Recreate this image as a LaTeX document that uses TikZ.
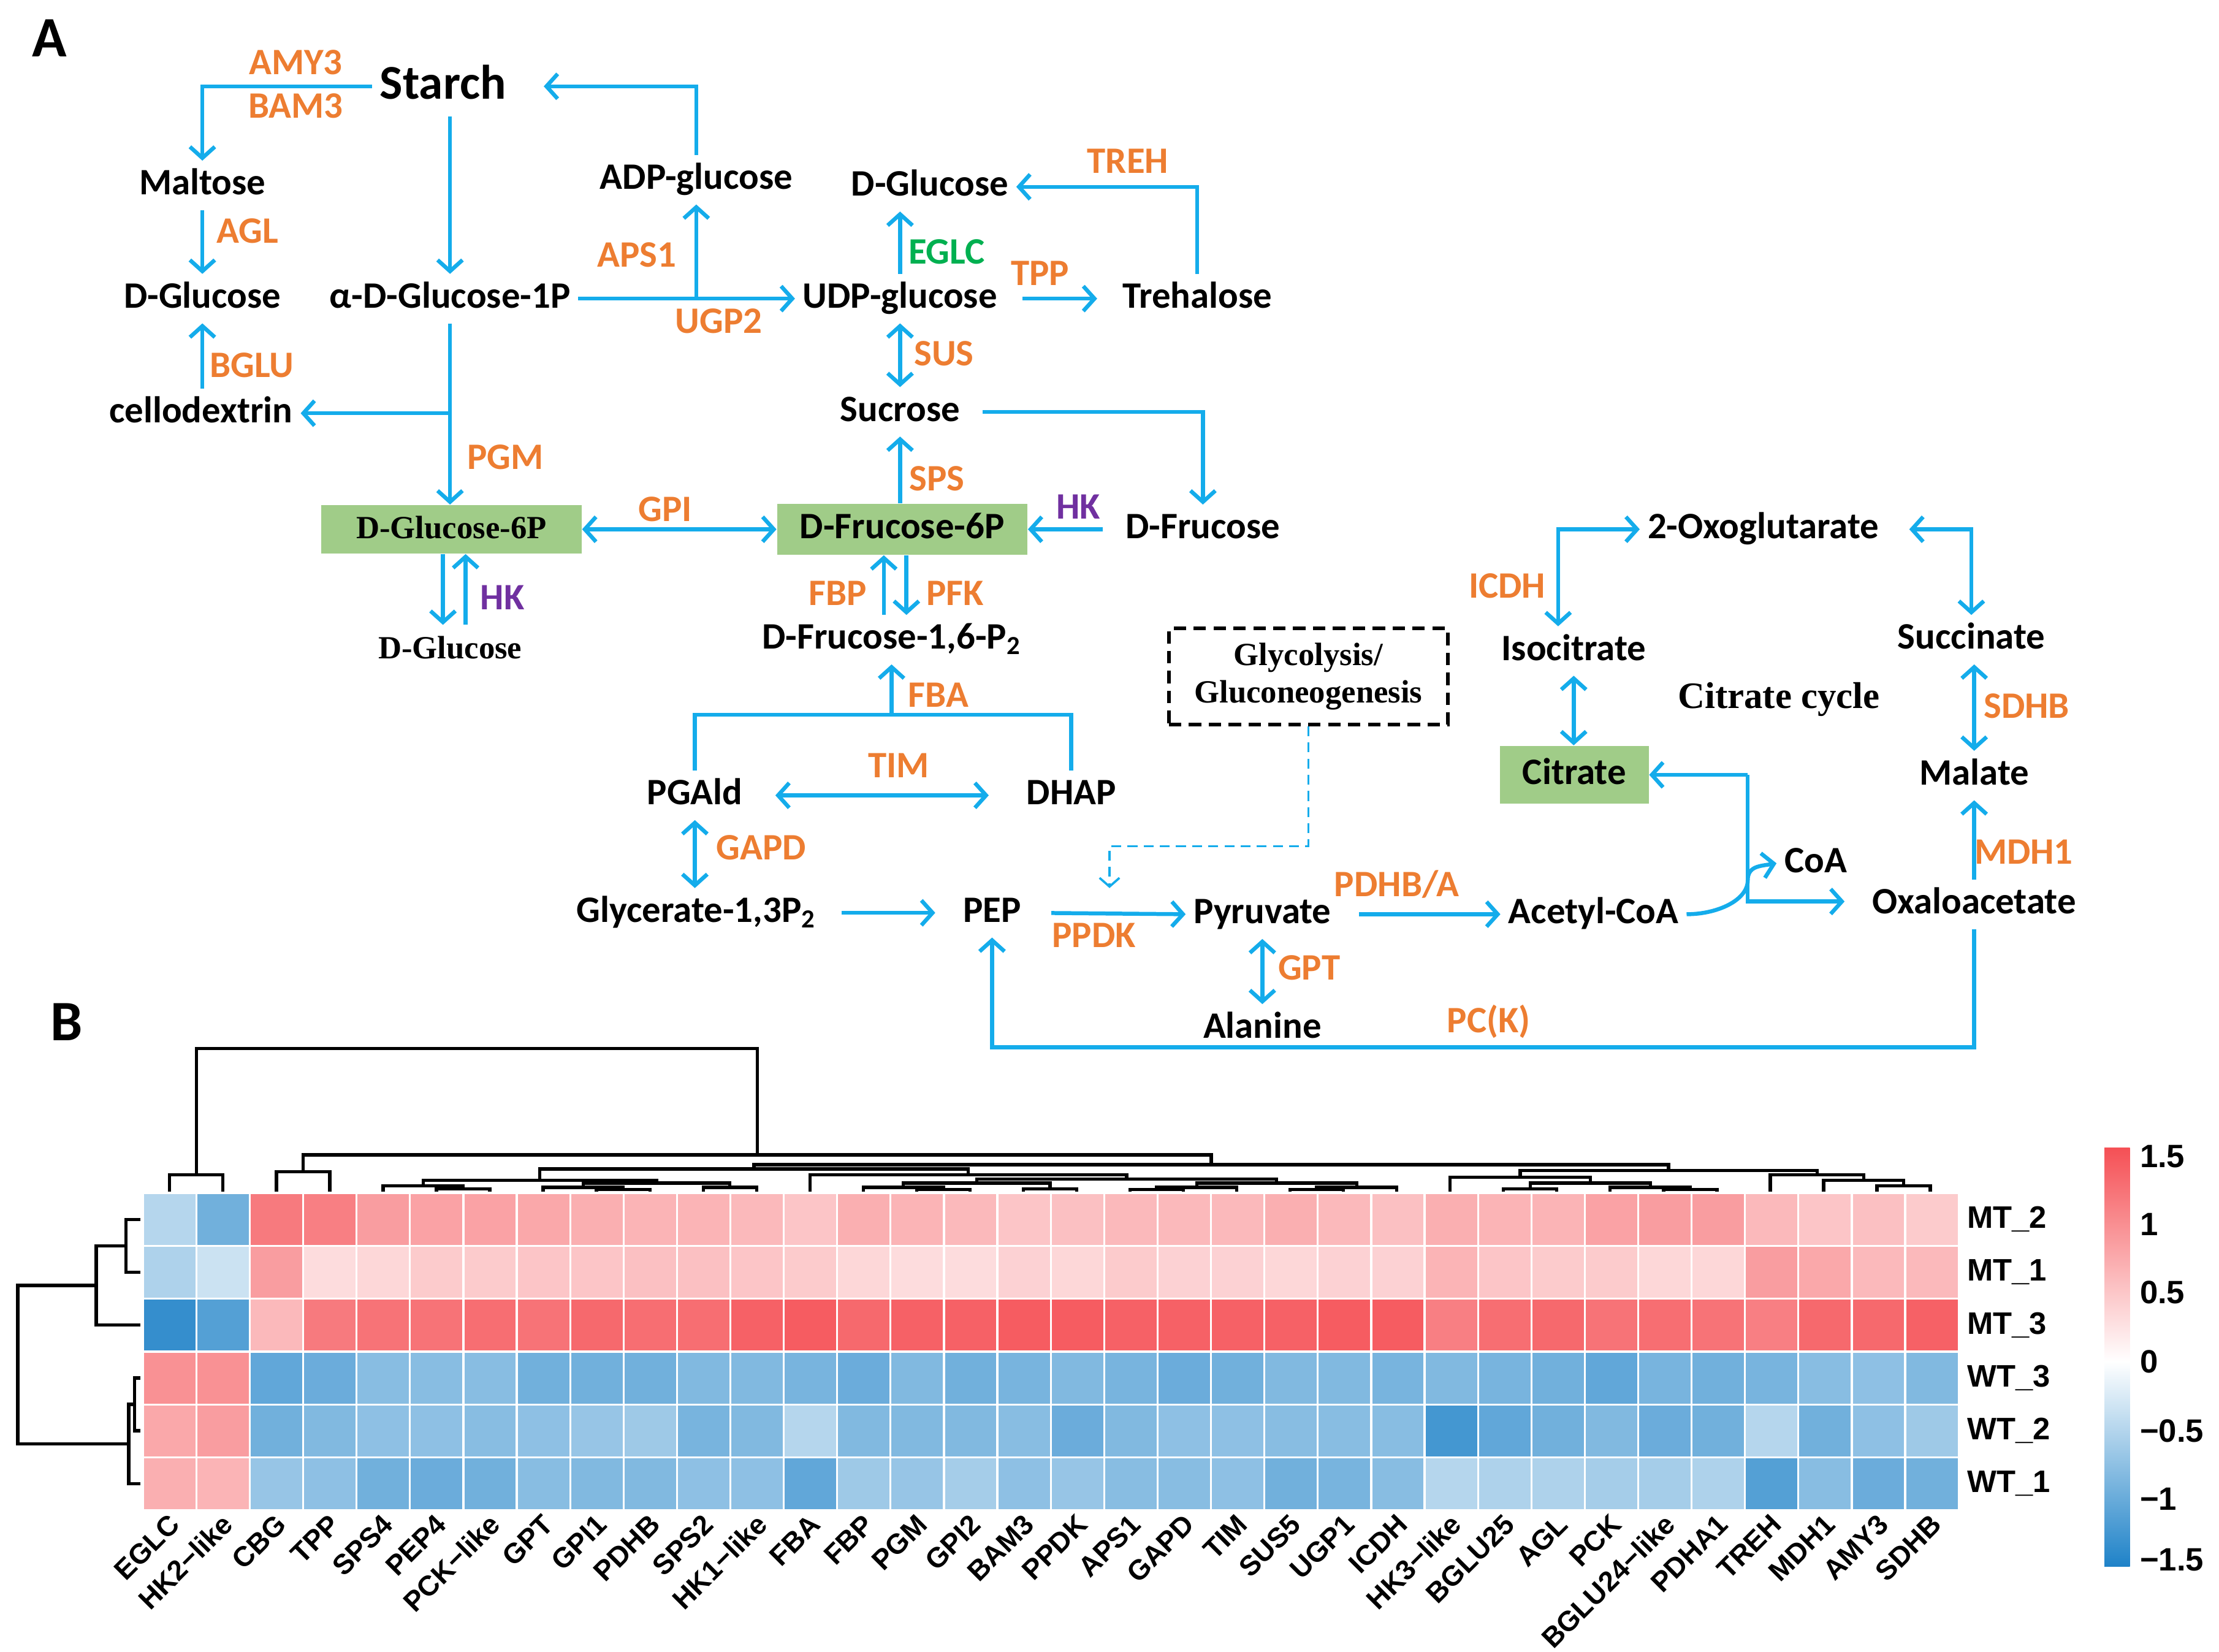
\documentclass[tikz,border=0pt]{standalone}
\usepackage{fontspec}
\setmainfont{Carlito}
\newfontfamily\timesbf{Liberation Serif}
\newfontfamily\arialbf{Liberation Sans}
\usepackage{xcolor}
\usepackage{tikz}
\usetikzlibrary{arrows.meta,positioning,calc}

\definecolor{pathblue}{RGB}{20,172,235}
\definecolor{enzorange}{RGB}{237,125,49}
\definecolor{enzgreen}{RGB}{0,176,80}
\definecolor{enzpurple}{RGB}{112,48,160}
\definecolor{boxgreen}{RGB}{160,204,136}
\definecolor{hmred}{RGB}{245,80,85}
\definecolor{hmblue}{RGB}{30,130,200}

\newcommand{\colbranch}[5]{\draw[dend] (#1,#4) |- (#2,#3) -- (#2,#5);}
\newcommand{\rowbranch}[5]{\draw[dend] (#4,#1) -| (#3,#2) -- (#5,#2);}

\begin{document}
\begin{tikzpicture}[x=0.02cm, y=-0.02cm,
    met/.style={font=\fontsize{15}{18}\selectfont\bfseries, inner sep=3pt, text height=10.5pt, text depth=3pt},
    enz/.style={font=\fontsize{15}{18}\selectfont\bfseries, text=enzorange, inner sep=1pt},
    serifmet/.style={font=\timesbf\fontsize{13}{15}\selectfont\bfseries},
    keybox/.style={met, fill=boxgreen},
    arrow/.style={draw=pathblue, line width=1.6pt, -{Straight Barb[length=4.5pt,width=10pt]}},
    twoway/.style={arrow, {Straight Barb[length=4.5pt,width=10pt]}-{Straight Barb[length=4.5pt,width=10pt]}},
    link/.style={draw=pathblue, line width=1.6pt},
    dashlink/.style={draw=pathblue, line width=0.9pt, dash pattern=on 4pt off 2.5pt, -{Straight Barb[length=3.5pt,width=8pt]}},
    dend/.style={draw=black, line width=1.3pt},
    rowlab/.style={font=\arialbf\fontsize{12.5}{14}\selectfont\bfseries, anchor=west, inner sep=1pt},
    collab/.style={font=\arialbf\fontsize{11.3}{13}\selectfont\bfseries, anchor=east, rotate=45, inner sep=0.5pt},
    panel/.style={font=\fontsize{23}{26}\selectfont\bfseries}]

    \useasboundingbox (0,0) rectangle (1568,1167);

    \node[panel] (panelA) at (35,27) {A};
    \node[panel] (panelB) at (47,722) {B};

    % Metabolites
    \node[met, font=\fontsize{19.5}{22}\selectfont\bfseries, text height=14pt, text depth=4pt] (starch) at (313,61) {Starch};
    \node[met] (maltose) at (143,131) {Maltose};
    \node[met] (glcA) at (143,211) {D-Glucose};
    \node[met] (cello) at (142,292) {cellodextrin};
    \node[met] (g1p) at (318,211) {α-D-Glucose-1P};
    \node[met] (adp) at (492,127) {ADP-glucose};
    \node[met] (glcC) at (657,132) {D-Glucose};
    \node[met] (udp) at (636,211) {UDP-glucose};
    \node[met] (treh) at (846,211) {Trehalose};
    \node[met] (sucrose) at (636,291) {Sucrose};
    \node[keybox, serifmet, minimum width=3.68cm, minimum height=0.64cm] (g6p) at (319,374) {D-Glucose-6P};
    \node[keybox, minimum width=3.54cm, minimum height=0.72cm] (f6p) at (637.5,374) {D-Frucose-6P};
    \node[met] (dfru) at (850,374) {D-Frucose};
    \node[met, serifmet] (glcB) at (318,459) {D-Glucose};
    \node[met] (f16p) at (630,452) {D-Frucose-1,6-P\textsubscript{2}};
    \node[met] (pgald) at (491,562) {PGAld};
    \node[met] (dhap) at (757,562) {DHAP};
    \node[met] (gly13) at (492,645) {Glycerate-1,3P\textsubscript{2}};
    \node[met] (pep) at (701,645) {PEP};
    \node[met] (pyr) at (892,646) {Pyruvate};
    \node[met] (acoa) at (1126,646) {Acetyl-CoA};
    \node[met] (ala) at (892,727) {Alanine};
    \node[met] (coa) at (1283,610) {CoA};
    \node[met] (oaa) at (1395,639) {Oxaloacetate};
    \node[met] (malate) at (1395,548) {Malate};
    \node[met] (succ) at (1393,452) {Succinate};
    \node[met] (oxo) at (1246,374) {2-Oxoglutarate};
    \node[met] (iso) at (1112,460) {Isocitrate};
    \node[keybox, minimum width=2.1cm, minimum height=0.82cm] (citrate) at (1112.5,547.5) {Citrate};
    \node[font=\timesbf\fontsize{15}{18}\selectfont\bfseries] (cycle) at (1257,494) {Citrate cycle};
    \node[draw, line width=1.4pt, dash pattern=on 5pt off 3pt, minimum width=3.94cm, minimum height=1.36cm,
          align=center, font=\timesbf\fontsize{13}{15}\selectfont\bfseries] (gbox) at (924.5,478) {Glycolysis/\\Gluconeogenesis};

    % Enzymes
    \node[enz] (eAMY3) at (209,44) {AMY3};
    \node[enz] (eBAM3) at (209,75) {BAM3};
    \node[enz] (eAGL) at (175,163) {AGL};
    \node[enz] (eBGLU) at (178,258) {BGLU};
    \node[enz] (eAPS1) at (450,180) {APS1};
    \node[enz] (eUGP2) at (508,227) {UGP2};
    \node[enz] (ePGM) at (357,323) {PGM};
    \node[enz] (eGPI) at (470,360) {GPI};
    \node[enz, text=enzgreen] (eEGLC) at (669,178) {EGLC};
    \node[enz] (eTPP) at (735,193) {TPP};
    \node[enz] (eTREH) at (797,114) {TREH};
    \node[enz] (eSUS) at (667,250) {SUS};
    \node[enz] (eSPS) at (662,338) {SPS};
    \node[enz, text=enzpurple] (eHKa) at (762,358) {HK};
    \node[enz, text=enzpurple] (eHKb) at (355,422) {HK};
    \node[enz] (eFBP) at (592,419) {FBP};
    \node[enz] (ePFK) at (675,419) {PFK};
    \node[enz] (eFBA) at (663,491) {FBA};
    \node[enz] (eTIM) at (635,541) {TIM};
    \node[enz] (eGAPD) at (538,599) {GAPD};
    \node[enz] (ePPDK) at (773,661) {PPDK};
    \node[enz] (ePDH) at (987,625) {PDHB/A};
    \node[enz] (eGPT) at (925,684) {GPT};
    \node[enz] (ePCK) at (1052,722) {PC(K)};
    \node[enz] (eICDH) at (1065,414) {ICDH};
    \node[enz] (eSDHB) at (1432,499) {SDHB};
    \node[enz] (eMDH1) at (1430,602) {MDH1};

    % Arrows
    \coordinate (apsbr) at (adp.south |- g1p.east);
    \coordinate (cellbr) at (g1p.south |- cello.east);
    \coordinate (hkdn) at ($(g6p.south)+(-6,0)$);
    \coordinate (hkup) at ($(g6p.south)+(10,0)$);
    \coordinate (fbpx) at ($(f6p.south)+(-13,0)$);
    \coordinate (pfkx) at ($(f6p.south)+(3,0)$);
    \coordinate (fbabar) at (630,505);
    \coordinate (dturn) at (784,598);
    \coordinate (pcy) at (0,740);
    \coordinate (tcajoin) at (1235,547.5);
    \coordinate (tcamid) at (1235,622);
    \coordinate (tcalow) at (1235,637);
    \coordinate (icdhx) at (1101,0);

    \draw[arrow] (starch.west) -| (maltose.north);
    \draw[arrow] (maltose.south) -- (glcA.north);
    \draw[arrow] (glcA.south |- cello.north) -- (glcA.south);
    \draw[arrow] (starch.south -| g1p) -- (g1p.north);
    \draw[arrow] (g1p.east) -- (udp.west);
    \draw[arrow] (apsbr) -- (adp.south);
    \draw[arrow, shorten >=12pt] (adp.north) |- (starch.east);
    \draw[arrow] (g1p.south) -- (g1p.south |- g6p.north);
    \draw[arrow] (cellbr) -- (cello.east);
    \draw[twoway] (g6p.east) -- (f6p.west);
    \draw[arrow, shorten <=6pt] (dfru.west) -- (f6p.east);
    \draw[arrow] (hkdn) -- (hkdn |- glcB.north);
    \draw[arrow] (hkup |- glcB.north) -- (hkup);
    \draw[arrow] (sucrose.south |- f6p.north) -- (sucrose.south);
    \draw[twoway] (udp.south) -- (sucrose.north);
    \draw[arrow] (udp.north) -- (udp.north |- glcC.south);
    \draw[arrow, shorten <=7pt, shorten >=7pt] (udp.east) -- (treh.west);
    \draw[arrow] (treh.north) |- (glcC.east);
    \draw[arrow, shorten <=6pt] (sucrose.east) -| (dfru.north);
    \draw[arrow] (fbpx |- f16p.north) -- (fbpx);
    \draw[arrow] (pfkx) -- (pfkx |- f16p.north);
    \draw[link] (pgald.north) |- (fbabar) -| (dhap.north);
    \draw[arrow] (fbabar) -- (fbabar |- f16p.south);
    \draw[twoway, shorten <=10pt, shorten >=12pt] (pgald.east) -- (dhap.west);
    \draw[twoway] (pgald.south) -- (pgald.south |- gly13.north);
    \draw[arrow, shorten <=7pt, shorten >=8pt] (gly13.east) -- (pep.west);
    \draw[arrow, shorten <=9pt] (pep.east) -- (pyr.west);
    \draw[dashlink] (gbox.south) |- (dturn) -- (dturn |- pep.north);
    \draw[arrow, shorten <=8pt] (pyr.east) -- (acoa.west);
    \draw[twoway] (pyr.south) -- (ala.north);
    \draw[arrow] (oaa.south) -- (oaa.south |- pcy) -| (pep.south);
    \draw[arrow] (tcajoin) -- (citrate.east);
    \draw[arrow, shorten >=8pt] (tcajoin) -- (tcalow) -- (oaa.west |- tcalow);
    \draw[arrow] (acoa.east) .. controls +(22,0) and +(0,14) .. (tcamid) .. controls +(0,-10) and +(-12,2) .. (coa.west);
    \draw[arrow] (oaa.north) -- (oaa.north |- malate.south);
    \draw[twoway] (malate.north) -- (malate.north |- succ.south);
    \draw[twoway, shorten >=9pt] (succ.north) |- (oxo.east);
    \draw[twoway] (iso.north -| icdhx) |- (oxo.west);
    \draw[twoway] (iso.south) -- (iso.south |- citrate.north);

    % Heatmap
    \foreach \gene/\va/\vb/\vc/\vd/\ve/\vf [count=\ci] in {
        EGLC/-0.5/-0.55/-1.35/0.95/0.75/0.7,
        HK2−like/-0.95/-0.35/-1.15/0.95/0.85/0.65,
        CBG/1.15/0.85/0.6/-1.05/-0.95/-0.7,
        TPP/1.1/0.3/1.15/-1.0/-0.85/-0.75,
        SPS4/0.85/0.35/1.2/-0.8/-0.75/-0.95,
        PEP4/0.8/0.45/1.2/-0.8/-0.75/-1.0,
        PCK−like/0.8/0.45/1.25/-0.8/-0.8/-0.95,
        GPT/0.75/0.5/1.2/-0.95/-0.75/-0.8,
        GPI1/0.7/0.5/1.3/-0.95/-0.7/-0.85,
        PDHB/0.65/0.55/1.25/-0.95/-0.65/-0.85,
        SPS2/0.65/0.55/1.25/-0.85/-0.9/-0.75,
        HK1−like/0.6/0.5/1.35/-0.85/-0.85/-0.75,
        FBA/0.5/0.45/1.4/-0.9/-0.5/-1.05,
        FBP/0.7/0.35/1.3/-1.0/-0.85/-0.65,
        PGM/0.65/0.3/1.35/-0.85/-0.85/-0.7,
        GPI2/0.6/0.3/1.35/-0.95/-0.85/-0.6,
        BAM3/0.5/0.4/1.4/-0.9/-0.8/-0.75,
        PPDK/0.55/0.35/1.4/-0.85/-1.0/-0.7,
        APS1/0.6/0.45/1.35/-0.9/-0.85/-0.8,
        GAPD/0.6/0.4/1.35/-1.0/-0.75/-0.8,
        TIM/0.6/0.4/1.35/-0.95/-0.75/-0.75,
        SUS5/0.7/0.35/1.35/-0.85/-0.8/-0.95,
        UGP1/0.6/0.4/1.4/-0.85/-0.8/-0.9,
        ICDH/0.55/0.4/1.4/-0.9/-0.8/-0.8,
        HK3−like/0.7/0.65/1.1/-0.85/-1.25/-0.5,
        BGLU25/0.65/0.5/1.25/-0.9/-1.05/-0.55,
        AGL/0.65/0.45/1.3/-0.95/-0.95/-0.55,
        PCK/0.8/0.45/1.2/-1.05/-0.85/-0.6,
        BGLU24−like/0.85/0.35/1.25/-0.9/-1.0/-0.6,
        PDHA1/0.85/0.35/1.2/-0.95/-0.95/-0.55,
        TREH/0.6/0.85/1.1/-0.9/-0.5/-1.15,
        MDH1/0.5/0.75/1.3/-0.8/-0.95/-0.8,
        AMY3/0.55/0.6/1.3/-0.75/-0.75/-1.0,
        SDHB/0.45/0.6/1.35/-0.85/-0.65/-0.95} {
        \pgfmathsetmacro\cx{101+37.735*(\ci-1)}
        \foreach \v [count=\ri] in {\va,\vb,\vc,\vd,\ve,\vf} {
            \pgfmathsetmacro\ry{843+37.35*(\ri-1)}
            \pgfmathtruncatemacro\pc{min(100,abs(\v)*66.7)}
            \ifdim\v pt>0pt \def\hc{hmred}\else\def\hc{hmblue}\fi
            \filldraw[fill=\hc!\pc!white, draw=white, line width=0.8pt] (\cx,\ry) rectangle ++(37.735,37.35);
        }
        \node[collab] (col\ci) at (\cx+23,1073) {\gene};
    }
    \foreach \rn [count=\ri] in {MT\_2,MT\_1,MT\_3,WT\_3,WT\_2,WT\_1}
        \node[rowlab] (row\ri) at (1388,{843+37.35*(\ri-0.5)}) {\rn};

    % Column dendrogram
    \colbranch{119.9}{157.6}{830}{842}{842}
    \colbranch{195.3}{233.0}{828}{842}{842}
    \colbranch{308.4}{346.1}{840}{842}{842}
    \colbranch{270.7}{327.25}{838}{842}{840}
    \colbranch{421.5}{459.2}{840.5}{842}{842}
    \colbranch{383.8}{440.35}{839}{842}{840.5}
    \colbranch{496.9}{534.6}{839}{842}{842}
    \colbranch{412.1}{515.75}{836}{839}{839}
    \colbranch{299}{463.9}{834}{838}{836}
    \colbranch{647.7}{685.4}{840.5}{842}{842}
    \colbranch{610}{666.55}{839}{842}{840.5}
    \colbranch{723.1}{760.8}{840}{842}{842}
    \colbranch{638.3}{741.95}{836}{839}{840}
    \colbranch{798.5}{836.2}{840.5}{842}{842}
    \colbranch{817.35}{873.9}{839}{840.5}{842}
    \colbranch{911.6}{949.3}{840.5}{842}{842}
    \colbranch{930.45}{987}{839}{840.5}{842}
    \colbranch{845.6}{958.7}{836}{839}{839}
    \colbranch{690.1}{902.15}{833}{836}{836}
    \colbranch{572.3}{796.1}{830}{842}{833}
    \colbranch{381.45}{684.2}{826}{834}{830}
    \colbranch{1062.4}{1100.1}{840}{842}{842}
    \colbranch{1175.5}{1213.2}{840.5}{842}{842}
    \colbranch{1137.8}{1194.35}{839}{842}{840.5}
    \colbranch{1081.25}{1166.1}{836}{840}{839}
    \colbranch{1024.7}{1123.7}{832}{842}{836}
    \colbranch{1326.3}{1364}{838}{842}{842}
    \colbranch{1288.6}{1345.15}{834}{842}{838}
    \colbranch{1250.9}{1316.9}{830}{842}{834}
    \colbranch{1074.2}{1283.9}{827}{832}{830}
    \colbranch{532.8}{1179.05}{823}{826}{827}
    \colbranch{214.15}{855.9}{816}{828}{823}
    \colbranch{138.75}{535}{741}{830}{816}

    % Row dendrogram
    \rowbranch{861.7}{899}{89}{99}{99}
    \rowbranch{880.35}{936.3}{68}{89}{99}
    \rowbranch{973.7}{1011}{95}{99}{99}
    \rowbranch{992.35}{1048.3}{91}{95}{99}
    \rowbranch{908.3}{1020.3}{12.6}{68}{91}

    % Colour key
    \shade[top color=hmred, bottom color=white] (1487,811) rectangle (1505,962);
    \shade[top color=white, bottom color=hmblue] (1487,962) rectangle (1505,1107);
    \foreach \lab/\ly [count=\k] in {1.5/817, 1/865, 0.5/913, 0/962, −0.5/1011, −1/1059, −1.5/1102}
        \node[rowlab, font=\arialbf\fontsize{13}{15}\selectfont\bfseries] (cbar\k) at (1510,\ly) {\lab};
\end{tikzpicture}
\end{document}
